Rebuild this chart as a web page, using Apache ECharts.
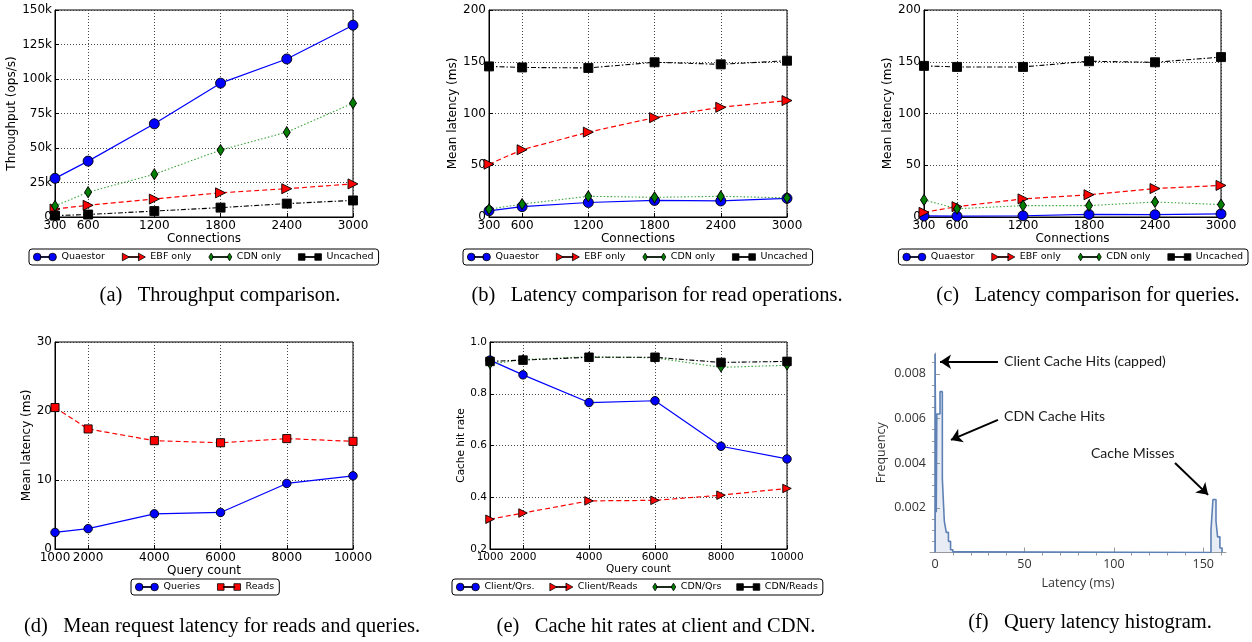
<!DOCTYPE html>
<html><head><meta charset="utf-8">
<script src="https://cdn.jsdelivr.net/npm/echarts@6/dist/echarts.min.js"></script>
<style>html,body{margin:0;padding:0;background:#fff}#c{width:1252px;height:642px}</style>
</head><body><div id="c"></div>
<script>
// ================= DATA =================
const connections = [300, 600, 1200, 1800, 2400, 3000];
const connTicks = [300, 600, 1200, 1800, 2400, 3000];

// (a) throughput, ops/s
const tputQuaestor = [28000, 40500, 67500, 97000, 114500, 139000];
const tputEbf      = [5800, 8500, 13000, 17500, 20500, 24000];
const tputCdn      = [8000, 18000, 31000, 48500, 61500, 82500];
const tputUncached = [1000, 1800, 4300, 6800, 9700, 12000];

// (b) read latency, ms
const readQuaestor = [6, 10, 14, 16, 15.5, 18];
const readEbf      = [51, 65, 82, 96, 106, 112.5];
const readCdn      = [7.5, 12.5, 20, 19, 20, 18.5];
const readUncached = [145.5, 144.5, 144, 149.5, 147.5, 151];

// (c) query latency, ms
const qryQuaestor = [1, 0.8, 1.2, 2.5, 2.2, 3];
const qryEbf      = [4.5, 10, 17.5, 21.5, 27.5, 30.5];
const qryCdn      = [16.5, 8, 11, 11, 14.5, 12];
const qryUncached = [146, 145, 145, 150.5, 149.5, 154.5];

// (d) mean latency vs query count
const queryCounts = [1000, 2000, 4000, 6000, 8000, 10000];
const qcTicks = [1000, 2000, 4000, 6000, 8000, 10000];
const latQueries = [2.4, 2.95, 5.1, 5.3, 9.5, 10.6];
const latReads   = [20.5, 17.4, 15.7, 15.4, 16.0, 15.6];

// (e) cache hit rates
const hitClientQrs   = [0.93, 0.873, 0.766, 0.773, 0.597, 0.548];
const hitClientReads = [0.315, 0.339, 0.386, 0.388, 0.408, 0.434];
const hitCdnQrs      = [0.915, 0.932, 0.943, 0.939, 0.902, 0.910];
const hitCdnReads    = [0.925, 0.930, 0.941, 0.941, 0.921, 0.925];

// (f) histogram: bin left edges (ms) and frequencies
const histEdges = [0, 0, 0.7, 1.0, 2.8, 4.1, 5.2, 6.3, 7.5, 8.7, 10, 20, 154.3, 155.4, 157.1, 158.0, 159.3, 160.5];
const histFreq  = [0, 0.0089, 0.0018, 0.0062, 0.0072, 0.0033, 0.0014, 0.0009, 0.0005, 0.00012, 0.00003, 0, 0.001, 0.00237, 0.0014, 0.0007, 0.0002, 0];
const histXTicks = [0, 50, 100, 150];
const histXMinor = [10, 20, 30, 40, 60, 70, 80, 90, 110, 120, 130, 140, 160];
const histYTicks = [0.002, 0.004, 0.006, 0.008];
const histYMinor = [0.0005, 0.001, 0.0015, 0.0025, 0.003, 0.0035, 0.0045, 0.005, 0.0055, 0.0065, 0.007, 0.0075, 0.0085];

const annotationTexts = ['Client Cache Hits (capped)', 'CDN Cache Hits', 'Cache Misses'];
const annotationAnchors = [[38.6, 0.00854], [38.6, 0.00608], [87.2, 0.00442]];
const arrowsFrom = [[35.2, 0.00854], [35.2, 0.00594], [134.2, 0.00401]];
const arrowsTo   = [[2.8, 0.00854], [8.9, 0.00504], [152.7, 0.00258]];

const captions = [
  '(a)   Throughput comparison.',
  '(b)   Latency comparison for read operations.',
  '(c)   Latency comparison for queries.',
  '(d)   Mean request latency for reads and queries.',
  '(e)   Cache hit rates at client and CDN.',
  '(f)   Query latency histogram.'
];

// ================= LAYOUT / STYLE =================
const gridBoxes = [
  {left: 55, top: 10, width: 298, height: 207},
  {left: 489, top: 10, width: 298, height: 207},
  {left: 924, top: 10, width: 297, height: 207},
  {left: 55, top: 342, width: 298, height: 207},
  {left: 490, top: 342, width: 297, height: 207},
  {left: 930, top: 353, width: 296, height: 199.5}
];
const captionPos = [[220, 296], [657, 296], [1088, 296], [222, 627], [656, 627], [1090, 623]];

const MPL = 'DejaVu Sans';
const styles = {
  blue:  {color: '#0000ff', line: '#0000ff', symbol: 'circle', size: 10, rotate: 0, dash: 'solid', width: 1.2},
  red:   {color: '#ff0000', line: '#ff0000', symbol: 'triangle', size: 10, rotate: -90, dash: [5, 3], width: 1.2},
  green: {color: '#007f00', line: '#3aa53a', symbol: 'diamond', size: [7, 11], rotate: 0, dash: [1.5, 2], width: 1.1},
  black: {color: '#000000', line: '#000000', symbol: 'rect', size: 9, rotate: 0, dash: [5, 2, 1.5, 2], width: 1.1},
  redSq: {color: '#ff0000', line: '#ff0000', symbol: 'rect', size: 9, rotate: 0, dash: [5, 3], width: 1.2}
};
const icons = {
  circle: 'path://M0,5A5,5 0 1,1 10,5A5,5 0 1,1 0,5ZM9,4.4H21V5.6H9ZM20,5A5,5 0 1,1 30,5A5,5 0 1,1 20,5Z',
  tri: 'path://M0,0L9,5L0,10ZM8,4.4H22V5.6H8ZM21,0L30,5L21,10Z',
  diamond: 'path://M3,0L6,5L3,10L0,5ZM5,4.4H25V5.6H5ZM27,0L30,5L27,10L24,5Z',
  square: 'path://M1,1H9V9H1ZM8,4.4H22V5.6H8ZM21,1H29V9H21Z'
};

function pairs(xs, ys) { return xs.map((x, i) => [x, ys[i]]); }

function lineSeries(name, gi, xs, ys, st, scale) {
  const k = scale || 1;
  const size = Array.isArray(st.size) ? st.size.map(v => v * k) : st.size * k;
  return {
    type: 'line', name: name, xAxisIndex: gi, yAxisIndex: gi,
    data: pairs(xs, ys), symbol: st.symbol, symbolSize: size, symbolRotate: st.rotate,
    showAllSymbol: true, clip: true, animation: false,
    itemStyle: {color: st.color, borderColor: '#000', borderWidth: 0.9},
    lineStyle: {color: st.line, width: st.width, type: st.dash},
    emphasis: {disabled: true}
  };
}

function mplX(gi, min, max, ticks, fs, name, nameGap) {
  return {
    type: 'value', gridIndex: gi, min: min, max: max,
    name: name, nameLocation: 'middle', nameGap: nameGap,
    nameTextStyle: {fontFamily: MPL, fontSize: fs, color: '#000'},
    axisLine: {show: true, onZero: false, lineStyle: {color: '#000', width: 1}},
    axisTick: {show: true, inside: true, length: 4, customValues: ticks, lineStyle: {color: '#000'}},
    axisLabel: {customValues: ticks, margin: 3, fontFamily: MPL, fontSize: fs, color: '#000',
      showMinLabel: true, showMaxLabel: true, hideOverlap: false, formatter: v => String(v)},
    splitLine: {show: true, lineStyle: {color: '#333', width: 0.9, type: [1, 2]}}
  };
}
function mplY(gi, min, max, interval, fs, name, nameGap, fmt) {
  return {
    type: 'value', gridIndex: gi, min: min, max: max, interval: interval,
    name: name, nameLocation: 'middle', nameGap: nameGap, nameRotate: 90,
    nameTextStyle: {fontFamily: MPL, fontSize: fs, color: '#000'},
    axisLine: {show: true, onZero: false, lineStyle: {color: '#000', width: 1}},
    axisTick: {show: true, inside: true, length: 4, lineStyle: {color: '#000'}},
    axisLabel: {margin: 3, fontFamily: MPL, fontSize: fs, color: '#000', formatter: fmt,
      showMinLabel: true, showMaxLabel: true, hideOverlap: false},
    splitLine: {show: true, lineStyle: {color: '#333', width: 0.9, type: [1, 2]}}
  };
}

const grids = gridBoxes.map((g, i) => Object.assign({
  show: i < 5, borderColor: '#000', borderWidth: 1, backgroundColor: 'transparent', outerBoundsMode: 'none', containLabel: false
}, g));

const xAxes = [
  mplX(0, 300, 3000, connTicks, 12, 'Connections', 16),
  mplX(1, 300, 3000, connTicks, 12, 'Connections', 16),
  mplX(2, 300, 3000, connTicks, 12, 'Connections', 16),
  mplX(3, 1000, 10000, qcTicks, 12, 'Query count', 16),
  mplX(4, 1000, 10000, qcTicks, 10.5, 'Query count', 15)
];
const yAxes = [
  mplY(0, 0, 150000, 25000, 12, 'Throughput (ops/s)', 37, v => v === 0 ? '0' : (v / 1000) + 'k'),
  mplY(1, 0, 200, 50, 12, 'Mean latency (ms)', 28, v => String(v)),
  mplY(2, 0, 200, 50, 12, 'Mean latency (ms)', 30, v => String(v)),
  mplY(3, 0, 30, 10, 12, 'Mean latency (ms)', 21, v => String(v)),
  mplY(4, 0.2, 1.0, 0.2, 10.5, 'Cache hit rate', 23, v => v.toFixed(1))
];
const HGRAY = '#9a9a9a';
const HFONT = 'Open Sans';
xAxes.push({
  type: 'value', gridIndex: 5, min: -2.8, max: 162.7,
  name: 'Latency (ms)', nameLocation: 'middle', nameGap: 24,
  nameTextStyle: {fontFamily: HFONT, fontSize: 12.5, color: '#333'},
  axisLine: {show: true, onZero: true, lineStyle: {color: HGRAY, width: 1}},
  axisTick: {show: true, inside: true, length: 5, customValues: histXTicks, lineStyle: {color: HGRAY}},
  axisLabel: {customValues: histXTicks, margin: 5, fontFamily: HFONT, fontSize: 12.5, color: '#333', formatter: v => String(v)},
  splitLine: {show: false}
});
xAxes.push({
  type: 'value', gridIndex: 5, min: -2.8, max: 162.7,
  axisLine: {show: false, onZero: true},
  axisTick: {show: true, inside: true, length: 3, customValues: histXMinor, lineStyle: {color: HGRAY}},
  axisLabel: {show: false}, splitLine: {show: false}
});
yAxes.push({
  type: 'value', gridIndex: 5, min: 0, max: 0.00893,
  name: 'Frequency', nameLocation: 'middle', nameGap: 42, nameRotate: 90,
  nameTextStyle: {fontFamily: HFONT, fontSize: 12.5, color: '#333'},
  axisLine: {show: true, onZero: true, lineStyle: {color: HGRAY, width: 1}},
  axisTick: {show: true, inside: true, length: 5, customValues: histYTicks, lineStyle: {color: HGRAY}},
  axisLabel: {customValues: histYTicks, margin: 4, fontFamily: HFONT, fontSize: 12.5, color: '#333', formatter: v => v.toFixed(3)},
  splitLine: {show: false}
});
yAxes.push({
  type: 'value', gridIndex: 5, min: 0, max: 0.00893,
  axisLine: {show: false, onZero: true},
  axisTick: {show: true, inside: true, length: 3, customValues: histYMinor, lineStyle: {color: HGRAY}},
  axisLabel: {show: false}, splitLine: {show: false}
});

const series = [
  lineSeries('Quaestor', 0, connections, tputQuaestor, styles.blue),
  lineSeries('EBF only', 0, connections, tputEbf, styles.red),
  lineSeries('CDN only', 0, connections, tputCdn, styles.green),
  lineSeries('Uncached', 0, connections, tputUncached, styles.black),
  lineSeries('Quaestor', 1, connections, readQuaestor, styles.blue),
  lineSeries('EBF only', 1, connections, readEbf, styles.red),
  lineSeries('CDN only', 1, connections, readCdn, styles.green),
  lineSeries('Uncached', 1, connections, readUncached, styles.black),
  lineSeries('Quaestor', 2, connections, qryQuaestor, styles.blue),
  lineSeries('EBF only', 2, connections, qryEbf, styles.red),
  lineSeries('CDN only', 2, connections, qryCdn, styles.green),
  lineSeries('Uncached', 2, connections, qryUncached, styles.black),
  lineSeries('Queries', 3, queryCounts, latQueries, styles.blue, 0.85),
  lineSeries('Reads', 3, queryCounts, latReads, styles.redSq, 0.9),
  lineSeries('Client/Qrs.', 4, queryCounts, hitClientQrs, styles.blue, 0.85),
  lineSeries('Client/Reads', 4, queryCounts, hitClientReads, styles.red, 0.85),
  lineSeries('CDN/Qrs', 4, queryCounts, hitCdnQrs, styles.green, 0.85),
  lineSeries('CDN/Reads', 4, queryCounts, hitCdnReads, styles.black, 0.95),
  {
    type: 'line', name: 'Histogram', xAxisIndex: 5, yAxisIndex: 5, step: 'end', symbol: 'none',
    data: pairs(histEdges, histFreq), animation: false, z: 3,
    lineStyle: {color: '#5e81b5', width: 1.6},
    areaStyle: {color: 'rgba(94,129,181,0.2)'},
    emphasis: {disabled: true},
    markLine: {
      silent: true, animation: false, symbol: ['none', 'arrow'], symbolSize: 11,
      label: {show: false},
      lineStyle: {color: '#000', width: 2, type: 'solid'},
      emphasis: {disabled: true},
      data: arrowsFrom.map((f, i) => [{coord: f}, {coord: arrowsTo[i]}])
    },
    markPoint: {
      silent: true, animation: false, symbol: 'circle', symbolSize: 0,
      label: {show: true, position: 'right', distance: 0, formatter: '{b}', fontFamily: 'Lato', fontSize: 14, color: '#1a1a1a'},
      data: annotationTexts.map((t, i) => ({name: t, coord: annotationAnchors[i]}))
    }
  }
];

const legendBase = {
  orient: 'horizontal', itemWidth: 23, itemHeight: 8, itemGap: 17, padding: [3, 5, 3, 4],
  borderColor: '#000', borderWidth: 1, borderRadius: 3, backgroundColor: '#fff',
  textStyle: {fontFamily: MPL, fontSize: 9.5, color: '#000'}, selectedMode: false,
  itemStyle: {borderColor: '#000', borderWidth: 0.8}
};
const legendItems4 = [
  {name: 'Quaestor', icon: icons.circle}, {name: 'EBF only', icon: icons.tri},
  {name: 'CDN only', icon: icons.diamond}, {name: 'Uncached', icon: icons.square}
];
const legends = [
  Object.assign({}, legendBase, {left: 29, top: 249, data: legendItems4}),
  Object.assign({}, legendBase, {left: 463, top: 249, data: legendItems4}),
  Object.assign({}, legendBase, {right: 4, top: 249, data: legendItems4}),
  Object.assign({}, legendBase, {left: 131, top: 579, data: [{name: 'Queries', icon: icons.circle}, {name: 'Reads', icon: icons.square}]}),
  Object.assign({}, legendBase, {left: 452, top: 579, itemGap: 15, data: [
    {name: 'Client/Qrs.', icon: icons.circle}, {name: 'Client/Reads', icon: icons.tri},
    {name: 'CDN/Qrs', icon: icons.diamond}, {name: 'CDN/Reads', icon: icons.square}]})
];

const graphics = captions.map((t, i) => ({
  type: 'text', x: captionPos[i][0], y: captionPos[i][1], silent: true,
  style: {text: t, fontFamily: 'Liberation Serif', fontSize: 20.5, fill: '#000', align: 'center', verticalAlign: 'middle'}
}));

const chart = echarts.init(document.getElementById('c'), null, {renderer: 'canvas', width: 1252, height: 642});
chart.setOption({
  backgroundColor: '#fff',
  animation: false,
  grid: grids,
  xAxis: xAxes,
  yAxis: yAxes,
  legend: legends,
  series: series,
  graphic: graphics
});
</script>
</body></html>
